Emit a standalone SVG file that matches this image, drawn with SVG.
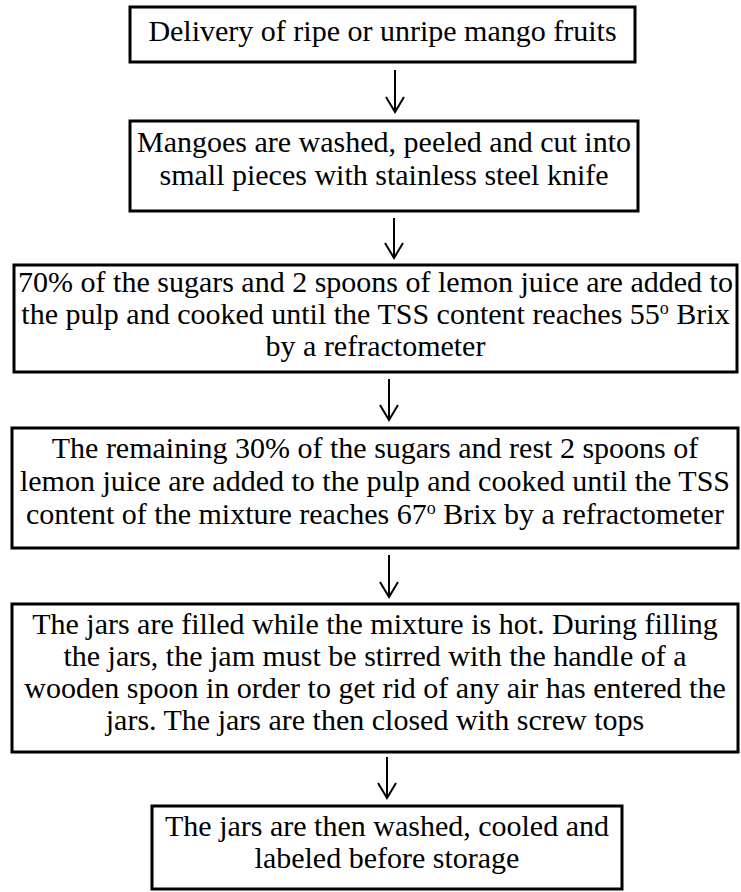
<svg xmlns="http://www.w3.org/2000/svg" width="741" height="892" viewBox="0 0 741 892">
  <style>
    .box { fill: #ffffff; stroke: #000000; stroke-width: 3; }
    .lbl { font-family: "Liberation Serif", "Times New Roman", serif; font-size: 30px; fill: #000000; text-anchor: middle; }
    .sup { font-size: 18px; }
    .flow { stroke: #000000; stroke-width: 2; fill: none; marker-end: url(#head); }
  </style>
  <defs>
    <!-- open V arrowhead, tip at the end of the line -->
    <marker id="head" markerUnits="userSpaceOnUse" viewBox="-17 -11 20 22" refX="0" refY="0" markerWidth="20" markerHeight="22" orient="auto">
      <path d="M-15,-9 L0,0 L-15,9" fill="none" stroke="#000000" stroke-width="2"/>
    </marker>
  </defs>
  <rect width="741" height="892" fill="#ffffff"/>

  <g id="connectors">
    <line class="flow" x1="395" y1="70" x2="395" y2="112"/>
    <line class="flow" x1="394" y1="218" x2="394" y2="258"/>
    <line class="flow" x1="389" y1="379" x2="389" y2="420"/>
    <line class="flow" x1="389" y1="555" x2="389" y2="597"/>
    <line class="flow" x1="387" y1="757" x2="387" y2="798"/>
  </g>

  <g id="delivery">
    <rect class="box" x="130" y="7" width="505" height="55"/>
    <text class="lbl" x="382.5" y="41">Delivery of ripe or unripe mango fruits</text>
  </g>

  <g id="washing">
    <rect class="box" x="130" y="121" width="508" height="90"/>
    <text class="lbl" x="384" y="152">Mangoes are washed, peeled and cut into</text>
    <text class="lbl" x="384" y="185">small pieces with stainless steel knife</text>
  </g>

  <g id="first-cooking">
    <rect class="box" x="14" y="265" width="723" height="107"/>
    <text class="lbl" x="375.5" y="292">70% of the sugars and 2 spoons of lemon juice are added to</text>
    <text class="lbl" x="375.5" y="324">the pulp and cooked until the TSS content reaches 55<tspan class="sup" baseline-shift="super">o</tspan> Brix</text>
    <text class="lbl" x="375.5" y="356">by a refractometer</text>
  </g>

  <g id="second-cooking">
    <rect class="box" x="12" y="428" width="726" height="120"/>
    <text class="lbl" x="375" y="458">The remaining 30% of the sugars and rest 2 spoons of</text>
    <text class="lbl" x="375" y="491">lemon juice are added to the pulp and cooked until the TSS</text>
    <text class="lbl" x="375" y="524">content of the mixture reaches 67<tspan class="sup" baseline-shift="super">o</tspan> Brix by a refractometer</text>
  </g>

  <g id="filling">
    <rect class="box" x="12" y="604" width="726" height="148"/>
    <text class="lbl" x="375" y="634">The jars are filled while the mixture is hot. During filling</text>
    <text class="lbl" x="375" y="666">the jars, the jam must be stirred with the handle of a</text>
    <text class="lbl" x="375" y="698">wooden spoon in order to get rid of any air has entered the</text>
    <text class="lbl" x="375" y="730">jars. The jars are then closed with screw tops</text>
  </g>

  <g id="storage">
    <rect class="box" x="152" y="806" width="470" height="83"/>
    <text class="lbl" x="387" y="836">The jars are then washed, cooled and</text>
    <text class="lbl" x="387" y="868">labeled before storage</text>
  </g>
</svg>
